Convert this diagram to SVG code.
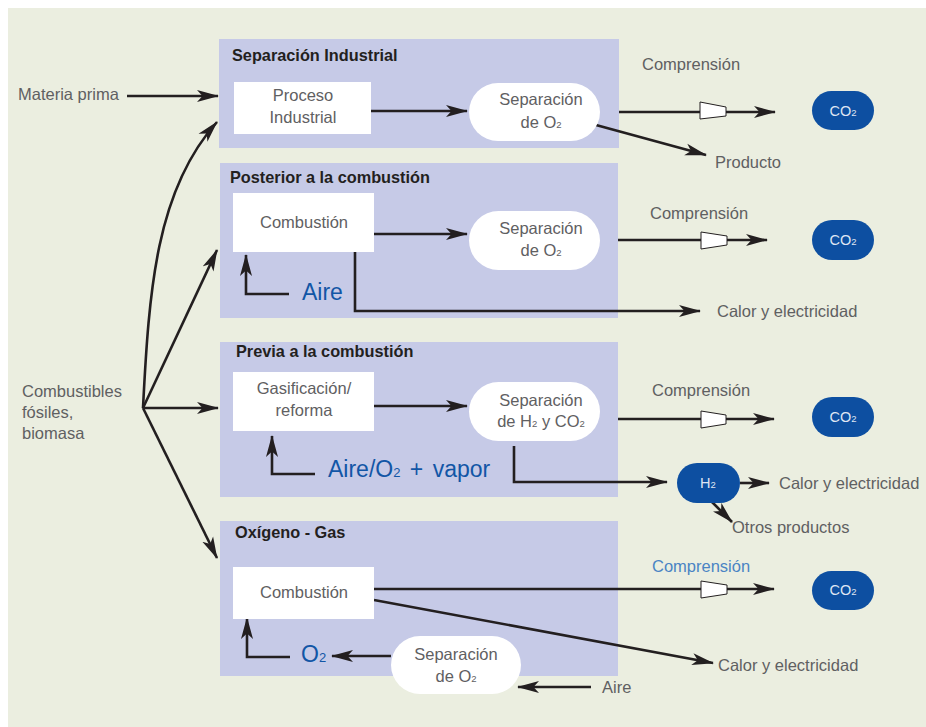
<svg xmlns="http://www.w3.org/2000/svg" width="926" height="727" viewBox="0 0 926 727">
<style>
.bg{fill:#ebeee0}
.panel{fill:#c6cae7}
.box{fill:#ffffff}
.t{font-family:"Liberation Sans",Arial,sans-serif;font-size:16.5px;fill:#5f6062}
.c{text-anchor:middle}
.title{font-family:"Liberation Sans",Arial,sans-serif;font-size:16.3px;font-weight:bold;fill:#231f20}
.big{font-family:"Liberation Sans",Arial,sans-serif;font-size:23px;fill:#1256a6}
.w{font-family:"Liberation Sans",Arial,sans-serif;font-size:14.5px;fill:#dfe6f3;text-anchor:middle}
.blue{fill:#0d4fa1}
.ln{fill:none;stroke:#231f20;stroke-width:2.6}
.arr{marker-end:url(#ah)}
.comp{fill:#ffffff;stroke:#231f20;stroke-width:1}
.sub{font-size:9.5px}
</style>
<defs>
<marker id="ah" markerUnits="userSpaceOnUse" markerWidth="22" markerHeight="13" refX="21" refY="6.5" orient="auto">
<path d="M0,0.5 L22,6.5 L0,12.5 L5.5,6.5 z" fill="#231f20"/>
</marker>
</defs>
<rect class="bg" x="8" y="8" width="918" height="719"/>

<g id="panel-industrial">
<rect class="panel" x="219" y="39" width="400" height="109"/>
<text class="title" x="232" y="61">Separación Industrial</text>
</g>
<g id="panel-posterior">
<rect class="panel" x="220" y="163" width="398" height="155"/>
<text class="title" x="230" y="183">Posterior a la combustión</text>
</g>
<g id="panel-previa">
<rect class="panel" x="220" y="342" width="398" height="155"/>
<text class="title" x="236" y="357">Previa a la combustión</text>
</g>
<g id="panel-oxigeno">
<rect class="panel" x="220" y="521" width="398" height="155"/>
<text class="title" x="235" y="538">Oxígeno - Gas</text>
</g>

<g id="connectors">
<path class="ln arr" d="M127,96 L218,96"/>
<path class="ln arr" d="M143,408 C149,290 156,190 217,122"/>
<path class="ln arr" d="M143,408 L217,250"/>
<path class="ln arr" d="M143,408 L218,408"/>
<path class="ln arr" d="M143,408 L217,558"/>
<path class="ln arr" d="M371,111 L467,111"/>
<path class="ln arr" d="M619,112 L775,112"/>
<path class="ln arr" d="M596,125 L706,155"/>
<path class="ln arr" d="M374,234 L467,234"/>
<path class="ln arr" d="M289,294 L246,294 L246,255"/>
<path class="ln arr" d="M355,252 L355,311 L700,311"/>
<path class="ln arr" d="M618,240 L767,240"/>
<path class="ln arr" d="M374,406 L467,406"/>
<path class="ln arr" d="M315,474 L272,474 L272,436"/>
<path class="ln arr" d="M514,446 L514,482 L667,482"/>
<path class="ln arr" d="M618,419 L774,419"/>
<path class="ln arr" d="M740,483 L769,483"/>
<path class="ln arr" d="M711,501 L732,522"/>
<path class="ln arr" d="M374,589 L774,589"/>
<path class="ln arr" d="M374,600 L713,663"/>
<path class="ln arr" d="M391,656 L332,656"/>
<path class="ln arr" d="M290,657 L247,657 L247,618"/>
<path class="ln arr" d="M591,687 L518,687"/>
</g>

<g id="compressors">
<polygon class="comp" points="700,102 726,107 726,116 700,119"/>
<polygon class="comp" points="701,232 727,236 727,245 701,249"/>
<polygon class="comp" points="701,411 726,415 726,424 701,428"/>
<polygon class="comp" points="701,581 727,585 727,594 701,598"/>
</g>

<g id="materia-prima"><text class="t" x="18" y="100">Materia prima</text></g>
<g id="combustibles">
<text class="t" x="22" y="397">Combustibles</text>
<text class="t" x="22" y="418">fósiles,</text>
<text class="t" x="22" y="439">biomasa</text>
</g>

<g id="proceso-industrial">
<rect class="box" x="234" y="82" width="137" height="52"/>
<text class="t c" x="303" y="101">Proceso</text>
<text class="t c" x="303" y="123">Industrial</text>
</g>
<g id="sep-o2-1">
<rect class="box" x="469" y="83" width="131" height="58" rx="29"/>
<text class="t c" x="541" y="105">Separación</text>
<text class="t c" x="541" y="128">de O<tspan class="sub">2</tspan></text>
</g>
<g id="comp-1"><text class="t" x="642" y="70">Comprensión</text></g>
<g id="co2-1">
<rect class="blue" x="812" y="91" width="62" height="39" rx="19.5"/>
<text class="w" x="843" y="116">CO<tspan class="sub">2</tspan></text>
</g>
<g id="producto"><text class="t" x="715" y="168">Producto</text></g>

<g id="combustion-2">
<rect class="box" x="233" y="193" width="141" height="59"/>
<text class="t c" x="304" y="228">Combustión</text>
</g>
<g id="aire-2"><text class="big" x="302" y="300">Aire</text></g>
<g id="sep-o2-2">
<rect class="box" x="469" y="211" width="131" height="59" rx="29.5"/>
<text class="t c" x="541" y="234">Separación</text>
<text class="t c" x="541" y="256">de O<tspan class="sub">2</tspan></text>
</g>
<g id="comp-2"><text class="t" x="650" y="219">Comprensión</text></g>
<g id="co2-2">
<rect class="blue" x="812" y="220" width="62" height="40" rx="20"/>
<text class="w" x="843" y="245">CO<tspan class="sub">2</tspan></text>
</g>
<g id="calor-2"><text class="t" x="717" y="317">Calor y electricidad</text></g>

<g id="gasificacion">
<rect class="box" x="233" y="372" width="141" height="59"/>
<text class="t c" x="304" y="394">Gasificación/</text>
<text class="t c" x="304" y="416">reforma</text>
</g>
<g id="aire-vapor"><text class="big" x="328" y="477" font-size="24px" word-spacing="3px">Aire/O<tspan font-size="13px">2</tspan> + vapor</text></g>
<g id="sep-h2-co2">
<rect class="box" x="469" y="382" width="131" height="59" rx="29.5"/>
<text class="t c" x="541" y="406">Separación</text>
<text class="t c" x="541" y="427">de H<tspan class="sub">2</tspan> y CO<tspan class="sub">2</tspan></text>
</g>
<g id="comp-3"><text class="t" x="652" y="396">Comprensión</text></g>
<g id="co2-3">
<rect class="blue" x="812" y="397" width="62" height="40" rx="20"/>
<text class="w" x="843" y="422">CO<tspan class="sub">2</tspan></text>
</g>
<g id="h2">
<rect class="blue" x="677" y="463" width="63" height="40" rx="20"/>
<text class="w" x="708" y="488">H<tspan class="sub">2</tspan></text>
</g>
<g id="calor-3"><text class="t" x="779" y="489">Calor y electricidad</text></g>
<g id="otros"><text class="t" x="732" y="533">Otros productos</text></g>

<g id="combustion-4">
<rect class="box" x="233" y="567" width="141" height="52"/>
<text class="t c" x="304" y="598">Combustión</text>
</g>
<g id="o2-4"><text class="big" x="301" y="662">O<tspan font-size="13px">2</tspan></text></g>
<g id="sep-o2-4">
<rect class="box" x="391" y="636" width="130" height="58" rx="29"/>
<text class="t c" x="456" y="660">Separación</text>
<text class="t c" x="456" y="682">de O<tspan class="sub">2</tspan></text>
</g>
<g id="comp-4"><text class="t" x="652" y="572" style="fill:#4a84c4">Comprensión</text></g>
<g id="co2-4">
<rect class="blue" x="812" y="571" width="62" height="39" rx="19.5"/>
<text class="w" x="843" y="595">CO<tspan class="sub">2</tspan></text>
</g>
<g id="calor-4"><text class="t" x="718" y="671">Calor y electricidad</text></g>
<g id="aire-4"><text class="t" x="602" y="693">Aire</text></g>
</svg>
